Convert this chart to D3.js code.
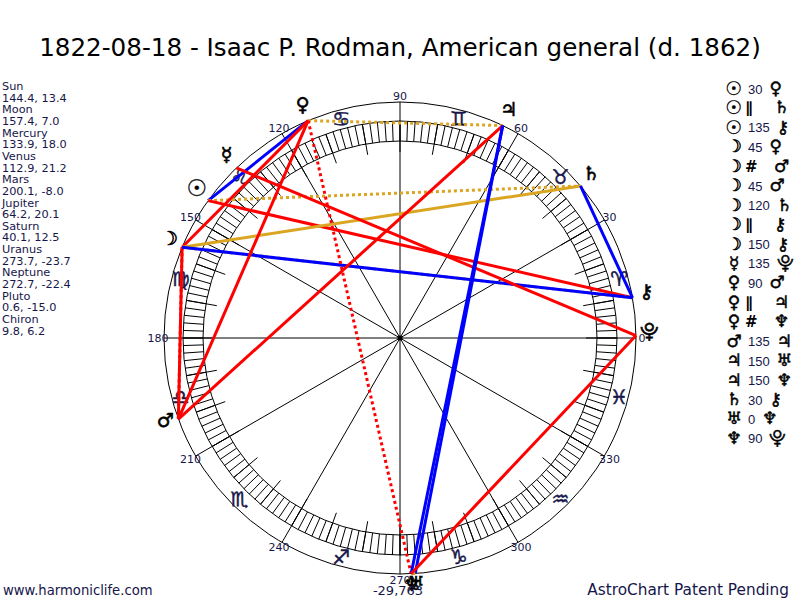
<!DOCTYPE html>
<html><head><meta charset="utf-8">
<script src="https://cdn.jsdelivr.net/npm/d3@7/dist/d3.min.js"></script>
<style>body{margin:0;background:#fff}svg{display:block}</style>
</head><body>
<svg id="chart" width="800" height="600"></svg>
<script>
// ---------- data ----------
const titleText = "1822-08-18 - Isaac P. Rodman, American general (d. 1862)";
const planetNames = ["Sun","Moon","Mercury","Venus","Mars","Jupiter","Saturn","Uranus","Neptune","Pluto","Chiron"];
const longitudes  = [144.4,157.4,133.9,112.9,200.1,64.2,40.1,273.7,272.7,0.6,9.8];
const declinations= [13.4,7.0,18.0,21.2,-8.0,20.1,12.5,-23.7,-22.4,-15.0,6.2];
const planetGlyphs= ["☉","☽","☿","♀","♂","♃","♄","♅","♆","⯓","⚷"];
const signGlyphs  = ["♈","♉","♊","♋","♌","♍","♎","♏","♐","♑","♒","♓"];
const degreeLabels= [0,30,60,90,120,150,180,210,240,270,300,330];
const aspectFrom  = ["Sun","Sun","Sun","Moon","Moon","Moon","Moon","Moon","Moon","Mercury","Venus","Venus","Venus","Mars","Jupiter","Jupiter","Saturn","Uranus","Neptune"];
const aspectTo    = ["Venus","Saturn","Chiron","Venus","Mars","Mars","Saturn","Chiron","Chiron","Pluto","Mars","Jupiter","Neptune","Jupiter","Uranus","Neptune","Chiron","Neptune","Pluto"];
const aspectType  = ["30","∥","135","45","#","45","120","∥","150","135","90","∥","#","135","150","150","30","0","90"];
const bottomValue = "-29,763";
const footLeft = "www.harmoniclife.com";
const footRight = "AstroChart Patent Pending";

// ---------- styles ----------
const navy = "#16164a";
const aspectStyle = {
  "0":  {c:"#DAA520", dash:null},
  "30": {c:"#0000FF", dash:null},
  "45": {c:"#FF0000", dash:null},
  "90": {c:"#FF0000", dash:null},
  "120":{c:"#DAA520", dash:null},
  "135":{c:"#FF0000", dash:null},
  "150":{c:"#0000FF", dash:null},
  "∥":  {c:"#DAA520", dash:"3,3"},
  "#":  {c:"#FF0000", dash:"3,3"}
};

const svg = d3.select("#chart");
const cx = 400, cy = 338;
const R = 236, bandOut = 217, bandIn = 197, tickIn = 186, labelR = 242, signR = 227, glyphR = 250;
const ang = d3.scaleLinear().domain([0,360]).range([0, 2*Math.PI]);
const pt = (lon, r) => { const a = ang(lon); return [cx + r*Math.cos(a), cy - r*Math.sin(a)]; };
const idx = name => planetNames.indexOf(name);

// title
svg.append("text").attr("x",400).attr("y",56).attr("text-anchor","middle")
  .attr("font-family","DejaVu Sans").attr("font-size",24.6).attr("fill","#000").text(titleText);

// circles
const g = svg.append("g");
[R, bandOut, bandIn].forEach(r => g.append("circle").attr("cx",cx).attr("cy",cy).attr("r",r)
  .attr("fill","none").attr("stroke","#000").attr("stroke-width",1));

// degree hatch (every 2 degrees) and 10-degree ticks
g.selectAll("line.h").data(d3.range(0,360,2)).join("line")
  .attr("x1",d=>pt(d,bandIn)[0]).attr("y1",d=>pt(d,bandIn)[1])
  .attr("x2",d=>pt(d,bandOut)[0]).attr("y2",d=>pt(d,bandOut)[1])
  .attr("stroke","#000").attr("stroke-width",1);
g.selectAll("line.t").data(d3.range(0,360,10)).join("line")
  .attr("x1",d=>pt(d,tickIn)[0]).attr("y1",d=>pt(d,tickIn)[1])
  .attr("x2",d=>pt(d,bandOut)[0]).attr("y2",d=>pt(d,bandOut)[1])
  .attr("stroke","#000").attr("stroke-width",1);
// spokes
g.selectAll("line.s").data(degreeLabels).join("line")
  .attr("x1",cx).attr("y1",cy)
  .attr("x2",d=>pt(d,R)[0]).attr("y2",d=>pt(d,R)[1])
  .attr("stroke","#000").attr("stroke-width",1);
g.append("circle").attr("cx",cx).attr("cy",cy).attr("r",2.5).attr("fill","#000");

// degree labels
g.selectAll("text.deg").data(degreeLabels).join("text")
  .attr("x",d=>pt(d,labelR)[0]).attr("y",d=>pt(d,labelR)[1])
  .attr("text-anchor","middle").attr("dominant-baseline","central")
  .attr("font-family","DejaVu Sans").attr("font-size",11).attr("fill",navy).text(d=>d);

// sign glyphs
g.selectAll("text.sign").data(signGlyphs).join("text")
  .attr("x",(d,i)=>pt(i*30+15,signR)[0]).attr("y",(d,i)=>pt(i*30+15,signR)[1])
  .attr("text-anchor","middle").attr("dominant-baseline","central")
  .attr("font-family","DejaVu Sans").attr("font-size",20).attr("fill",navy)
  .attr("stroke",navy).attr("stroke-width",0.5).text(d=>d);

// aspect lines
const asp = aspectType.map((t,i)=>({a:idx(aspectFrom[i]), b:idx(aspectTo[i]), t}));
svg.append("g").selectAll("line").data(asp).join("line")
  .attr("x1",d=>pt(longitudes[d.a],R)[0]).attr("y1",d=>pt(longitudes[d.a],R)[1])
  .attr("x2",d=>pt(longitudes[d.b],R)[0]).attr("y2",d=>pt(longitudes[d.b],R)[1])
  .attr("stroke",d=>aspectStyle[d.t].c).attr("stroke-width",3)
  .attr("stroke-dasharray",d=>aspectStyle[d.t].dash);

// planet glyphs
svg.append("g").selectAll("text").data(planetGlyphs).join("text")
  .attr("x",(d,i)=>pt(longitudes[i],glyphR)[0])
  .attr("y",(d,i)=>pt(longitudes[i],glyphR)[1]-4)
  .attr("text-anchor","middle").attr("dominant-baseline","central")
  .attr("font-family","DejaVu Sans").attr("font-size",(d,i)=>i===0?23:19)
  .attr("font-weight",(d,i)=>i===0?"bold":"normal")
  .attr("fill","#000").attr("stroke","#000").attr("stroke-width",(d,i)=>i===0?0.3:0.6).text(d=>d);

// bottom value
svg.append("text").attr("x",398).attr("y",595).attr("text-anchor","middle")
  .attr("font-family","DejaVu Sans").attr("font-size",13).attr("fill",navy).text(bottomValue);

// left list
const left = svg.append("g");
planetNames.forEach((n,i)=>{
  left.append("text").attr("x",2).attr("y",90+i*2*11.65)
    .attr("font-family","DejaVu Sans").attr("font-size",11.3).attr("fill",navy).text(n);
  left.append("text").attr("x",2).attr("y",90+(i*2+1)*11.65)
    .attr("font-family","DejaVu Sans").attr("font-size",11.3).attr("fill",navy)
    .text(longitudes[i].toFixed(1)+", "+declinations[i].toFixed(1));
});

// right aspect list
const right = svg.append("g");
asp.forEach((d,i)=>{
  const y = 88 + i*19.44;
  right.append("text").attr("x",734).attr("y",y).attr("text-anchor","middle")
    .attr("dominant-baseline","central").attr("font-family","DejaVu Sans")
    .attr("font-size",d.a===0?19:17).attr("font-weight",d.a===0?"bold":"normal")
    .attr("fill","#000").attr("stroke","#000").attr("stroke-width",d.a===0?0.3:0.5).text(planetGlyphs[d.a]);
  const sym = (d.t==="∥"||d.t==="#");
  const mid = right.append("text").attr("x",sym?745:748).attr("y",y+1).attr("dominant-baseline","central")
    .attr("font-family",sym?"DejaVu Sans":"Liberation Sans").attr("font-size",sym?15:13)
    .attr("font-weight",sym?"bold":"normal").attr("fill",sym?"#000":navy).text(d.t);
  const w = sym ? 22 : mid.node().getComputedTextLength();
  right.append("text").attr("x",(sym?745:748)+w+7).attr("y",y).attr("dominant-baseline","central")
    .attr("font-family","DejaVu Sans").attr("font-size",17).attr("fill","#000")
    .attr("stroke","#000").attr("stroke-width",0.5).text(planetGlyphs[d.b]);
});

// footers
svg.append("text").attr("x",3).attr("y",595).attr("font-family","DejaVu Sans").attr("font-size",13.2)
  .attr("fill",navy).text(footLeft);
svg.append("text").attr("x",789).attr("y",595).attr("text-anchor","end").attr("font-family","DejaVu Sans")
  .attr("font-size",15.3).attr("fill",navy).text(footRight);
</script></body></html>
